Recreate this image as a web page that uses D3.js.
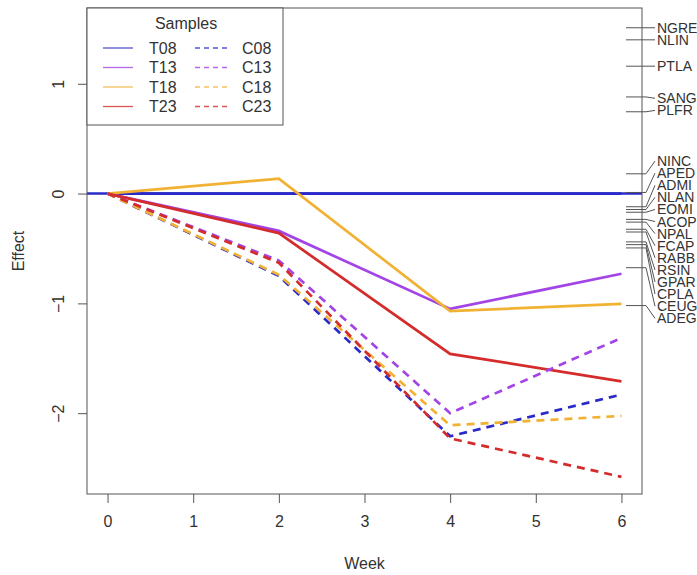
<!DOCTYPE html>
<html>
<head>
<meta charset="utf-8">
<script src="https://cdn.jsdelivr.net/npm/d3@7"></script>
<style>
  body { margin: 0; background: #fff; }
  text { font-family: "Liberation Sans", Arial, sans-serif; fill: #333; }
</style>
</head>
<body>
<svg id="chart" width="697" height="575"></svg>
<script>
// weeks sampled
const weeks = [0, 2, 4, 6]

// effect per sample, one value per week
const T08 = [0, 0, 0, 0]
const T13 = [0, -0.34, -1.05, -0.73]
const T18 = [0, 0.135, -1.07, -1.005]
const T23 = [0, -0.36, -1.46, -1.71]
const C08 = [0, -0.75, -2.21, -1.83]
const C13 = [0, -0.61, -2.00, -1.315]
const C18 = [0, -0.74, -2.11, -2.025]
const C23 = [0, -0.63, -2.23, -2.58]

const sampleNames = ['T08', 'T13', 'T18', 'T23', 'C08', 'C13', 'C18', 'C23']
const sampleValues = [T08, T13, T18, T23, C08, C13, C18, C23]

// species effects shown on the right-hand axis
const speciesNames = ['NGRE', 'NLIN', 'PTLA', 'SANG', 'PLFR', 'NINC', 'APED', 'ADMI', 'NLAN',
  'EOMI', 'ACOP', 'NPAL', 'FCAP', 'RABB', 'RSIN', 'GPAR', 'CPLA', 'CEUG', 'ADEG']
const speciesEffect = [1.51, 1.40, 1.16, 0.88, 0.745, 0.18, 0.01, -0.12, -0.145,
  -0.17, -0.235, -0.26, -0.325, -0.35, -0.44, -0.465, -0.495, -0.675, -1.02]

const xTicks = [0, 1, 2, 3, 4, 5, 6]
const yTicks = [-2, -1, 0, 1]

const colours = { '08': '#2a2acb', '13': '#a244e6', '18': '#f1b233', '23': '#d42b2b' }

const box = { left: 87, right: 642, top: 8, bottom: 494 }

const svg = d3.select('#chart')

const x = d3.scaleLinear().domain([-0.24, 6.24]).range([box.left, box.right])
const y = d3.scaleLinear().domain([-2.736, 1.69]).range([box.bottom, box.top])

svg.append('clipPath').attr('id', 'plotclip')
  .append('rect')
  .attr('x', box.left).attr('y', box.top)
  .attr('width', box.right - box.left).attr('height', box.bottom - box.top)

const plot = svg.append('g').attr('clip-path', 'url(#plotclip)')

// zero line
plot.append('line')
  .attr('x1', box.left).attr('x2', box.right)
  .attr('y1', y(0)).attr('y2', y(0))
  .attr('stroke', colours['08']).attr('stroke-width', 2.6)

const line = d3.line().x((d, i) => x(weeks[i])).y(d => y(d))

plot.selectAll('path.series')
  .data(sampleNames)
  .enter()
  .append('path')
  .attr('class', 'series')
  .attr('d', (name, i) => line(sampleValues[i]))
  .attr('fill', 'none')
  .attr('stroke', name => colours[name.slice(1)])
  .attr('stroke-width', 2.7)
  .attr('stroke-dasharray', name => name[0] === 'C' ? '8,6' : null)

// axes
const axisColour = '#555'

const xAxis = svg.append('g')
  .attr('transform', `translate(0,${box.bottom})`)
  .call(d3.axisBottom(x).tickValues(xTicks).tickSize(9).tickPadding(13).tickFormat(d3.format('d')))
xAxis.select('.domain').remove()
xAxis.selectAll('line').attr('stroke', axisColour)
xAxis.selectAll('text').style('font-size', '16px').attr('fill', '#333')

const yAxis = svg.append('g')
  .attr('transform', `translate(${box.left},0)`)
  .call(d3.axisLeft(y).tickValues(yTicks).tickSize(9).tickFormat(d3.format('d')))
yAxis.select('.domain').remove()
yAxis.selectAll('line').attr('stroke', axisColour)
yAxis.selectAll('text')
  .style('font-size', '16px')
  .attr('fill', '#333')
  .attr('x', null).attr('dy', null)
  .attr('text-anchor', 'middle')
  .attr('transform', 'translate(-23,0) rotate(-90)')

svg.append('rect')
  .attr('x', box.left).attr('y', box.top)
  .attr('width', box.right - box.left).attr('height', box.bottom - box.top)
  .attr('fill', 'none').attr('stroke', axisColour)

svg.append('text')
  .attr('x', (box.left + box.right) / 2).attr('y', 569)
  .attr('text-anchor', 'middle').style('font-size', '16px')
  .text('Week')

svg.append('text')
  .attr('transform', `translate(24,${(box.top + box.bottom) / 2}) rotate(-90)`)
  .attr('text-anchor', 'middle').style('font-size', '16px')
  .text('Effect')

// species labels on the right axis, spread so they do not overlap
const gap = 12.1
const species = speciesNames.map((name, i) => ({ name, ty: y(speciesEffect[i]) }))
  .sort((a, b) => a.ty - b.ty)

let clusters = species.map(s => ({ items: [s] }))
function place(c) {
  const lo = c.items[0].ty, hi = c.items[c.items.length - 1].ty
  c.start = (lo + hi) / 2 - gap * (c.items.length - 1) / 2
  c.end = c.start + gap * (c.items.length - 1)
}
clusters.forEach(place)
let merged = true
while (merged) {
  merged = false
  for (let i = 1; i < clusters.length; i++) {
    if (clusters[i].start - clusters[i - 1].end < gap * 1.5) {
      clusters[i - 1].items = clusters[i - 1].items.concat(clusters[i].items)
      clusters.splice(i, 1)
      place(clusters[i - 1])
      merged = true
      break
    }
  }
}
clusters.forEach(c => c.items.forEach((s, k) => { s.ly = c.items.length > 1 ? c.start + k * gap : s.ty }))

const spec = svg.append('g')
spec.selectAll('line.tick')
  .data(species)
  .enter()
  .append('line')
  .attr('x1', box.right - 16).attr('x2', box.right)
  .attr('y1', s => s.ty).attr('y2', s => s.ty)
  .attr('stroke', axisColour)

spec.selectAll('polyline')
  .data(species)
  .enter()
  .append('polyline')
  .attr('points', s => `${box.right},${s.ty} ${box.right + 4},${s.ty} ${box.right + 13},${s.ly}`)
  .attr('fill', 'none')
  .attr('stroke', axisColour)

spec.selectAll('text')
  .data(species)
  .enter()
  .append('text')
  .attr('x', box.right + 15)
  .attr('y', s => s.ly)
  .attr('dy', '0.36em')
  .style('font-size', '14px')
  .text(s => s.name)

// legend
const legend = svg.append('g')
legend.append('rect')
  .attr('x', box.left).attr('y', box.top)
  .attr('width', 196).attr('height', 117)
  .attr('fill', '#fff').attr('stroke', axisColour)

legend.append('text')
  .attr('x', box.left + 99).attr('y', 29)
  .attr('text-anchor', 'middle').style('font-size', '16px')
  .text('Samples')

const legendRows = ['08', '13', '18', '23']
legendRows.forEach((code, r) => {
  const ly = 48 + r * 19.5
  legend.append('line')
    .attr('x1', 103).attr('x2', 133).attr('y1', ly).attr('y2', ly)
    .attr('stroke', colours[code]).attr('stroke-width', 1.3).attr('opacity', 0.8)
  legend.append('text')
    .attr('x', 149).attr('y', ly).attr('dy', '0.36em')
    .style('font-size', '16px').text('T' + code)
  legend.append('line')
    .attr('x1', 195).attr('x2', 228).attr('y1', ly).attr('y2', ly)
    .attr('stroke', colours[code]).attr('stroke-width', 1.3).attr('opacity', 0.8)
    .attr('stroke-dasharray', '5,4')
  legend.append('text')
    .attr('x', 242).attr('y', ly).attr('dy', '0.36em')
    .style('font-size', '16px').text('C' + code)
})
</script>
</body>
</html>
